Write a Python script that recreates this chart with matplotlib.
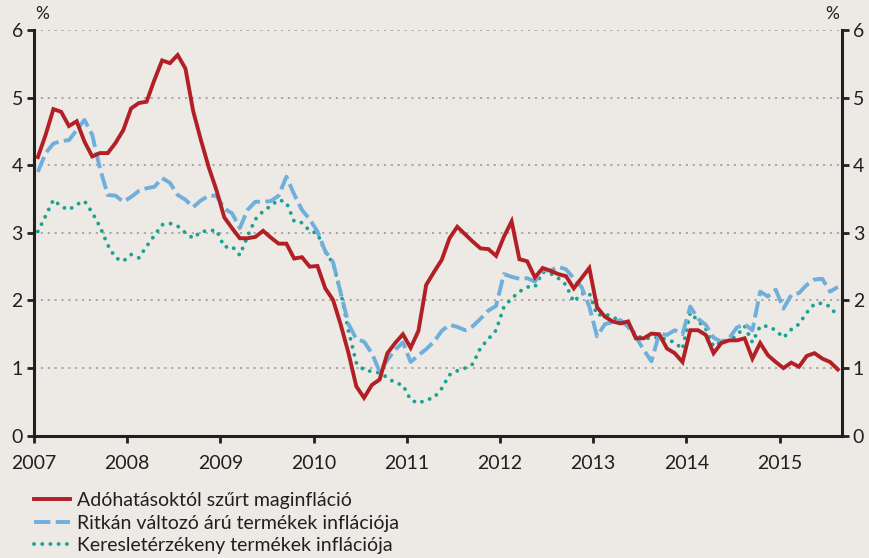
import numpy as np
import matplotlib
matplotlib.use("Agg")
import matplotlib.pyplot as plt

# Monthly data, Jan 2007 - Aug 2015 (%)
years = [2007, 2008, 2009, 2010, 2011, 2012, 2013, 2014, 2015]

core_tax_adj = [
    4.12, 4.45, 4.83, 4.79, 4.58, 4.65, 4.35, 4.13, 4.18, 4.18, 4.33, 4.52,
    4.84, 4.92, 4.94, 5.26, 5.55, 5.51, 5.63, 5.43, 4.80, 4.37, 3.97, 3.63,
    3.23, 3.07, 2.92, 2.92, 2.94, 3.03, 2.93, 2.84, 2.84, 2.62, 2.64, 2.50,
    2.51, 2.18, 2.01, 1.64, 1.22, 0.73, 0.56, 0.75, 0.83, 1.22, 1.37, 1.50,
    1.30, 1.55, 2.23, 2.42, 2.60, 2.92, 3.09, 2.98, 2.87, 2.77, 2.76, 2.66,
    2.94, 3.17, 2.61, 2.58, 2.34, 2.48, 2.44, 2.39, 2.36, 2.18, 2.33, 2.48,
    1.90, 1.76, 1.69, 1.66, 1.69, 1.44, 1.44, 1.51, 1.50, 1.29, 1.22, 1.09,
    1.56, 1.56, 1.49, 1.22, 1.37, 1.41, 1.41, 1.44, 1.14, 1.37, 1.19, 1.09,
    1.00, 1.08, 1.02, 1.18, 1.22, 1.14, 1.09, 0.98,
]

sticky_prices = [
    3.90, 4.18, 4.32, 4.36, 4.37, 4.52, 4.67, 4.45, 3.95, 3.56, 3.55, 3.46,
    3.53, 3.62, 3.66, 3.68, 3.81, 3.74, 3.56, 3.49, 3.38, 3.48, 3.55, 3.55,
    3.36, 3.29, 3.07, 3.34, 3.46, 3.46, 3.47, 3.55, 3.83, 3.57, 3.34, 3.20,
    3.02, 2.73, 2.57, 2.11, 1.65, 1.43, 1.39, 1.22, 0.95, 1.12, 1.27, 1.38,
    1.09, 1.19, 1.28, 1.39, 1.55, 1.64, 1.61, 1.56, 1.62, 1.73, 1.85, 1.92,
    2.39, 2.35, 2.32, 2.33, 2.28, 2.45, 2.44, 2.50, 2.46, 2.33, 2.20, 1.91,
    1.47, 1.65, 1.68, 1.71, 1.61, 1.46, 1.27, 1.10, 1.51, 1.49, 1.56, 1.50,
    1.91, 1.73, 1.64, 1.45, 1.39, 1.44, 1.60, 1.65, 1.56, 2.13, 2.06, 2.16,
    1.88, 2.08, 2.11, 2.23, 2.31, 2.32, 2.13, 2.20,
]

demand_sensitive = [
    3.02, 3.25, 3.49, 3.39, 3.34, 3.42, 3.47, 3.30, 3.09, 2.82, 2.63, 2.58,
    2.68, 2.63, 2.80, 2.96, 3.12, 3.14, 3.10, 3.00, 2.92, 3.02, 3.03, 3.04,
    2.79, 2.80, 2.67, 2.95, 3.20, 3.32, 3.40, 3.49, 3.45, 3.17, 3.15, 3.03,
    2.99, 2.72, 2.55, 2.12, 1.55, 1.08, 0.97, 0.95, 0.93, 0.86, 0.78, 0.75,
    0.53, 0.48, 0.53, 0.56, 0.70, 0.90, 0.96, 1.00, 1.06, 1.30, 1.43, 1.56,
    1.90, 2.03, 2.13, 2.20, 2.20, 2.42, 2.40, 2.33, 2.23, 1.98, 2.10, 2.11,
    1.78, 1.80, 1.76, 1.69, 1.66, 1.48, 1.44, 1.44, 1.46, 1.42, 1.38, 1.28,
    1.82, 1.70, 1.58, 1.32, 1.39, 1.41, 1.48, 1.62, 1.38, 1.62, 1.62, 1.56,
    1.45, 1.57, 1.65, 1.82, 1.95, 1.96, 1.91, 1.76,
]

labels = [
    "Adóhatásoktól szűrt maginfláció",
    "Ritkán változó árú termékek inflációja",
    "Keresletérzékeny termékek inflációja",
]

bg = "#ede9e5"
plt.rcParams["font.family"] = ["Lato", "DejaVu Sans"]

fig = plt.figure(figsize=(8.69, 5.58), dpi=100, facecolor=bg)
ax = fig.add_axes([0.0391, 0.2192, 0.9295, 0.7270], facecolor=bg)

x = np.arange(len(core_tax_adj)) + 0.5
lw = 2.8
ax.plot(x, core_tax_adj, color="#b22025", lw=lw, solid_joinstyle="miter",
        label=labels[0], zorder=4)
ax.plot(x, sticky_prices, color="#6fafdc", lw=lw, linestyle=(0, (4.2, 1.4)),
        label=labels[1], zorder=3)
ax.plot(x, demand_sensitive, color="#1aa394", lw=lw, linestyle=(0, (0.01, 2.1)),
        dash_capstyle="round", label=labels[2], zorder=2)

ax.set_xlim(0, 104)
ax.set_ylim(0, 6)
ax.set_xticks(np.arange(len(years)) * 12)
ax.set_xticklabels([str(y) for y in years])
ax.set_yticks(range(7))

for yv in range(1, 7):
    ax.axhline(yv, color="#a3a3a3", lw=1.3, linestyle=(0, (1.2, 2.6)), zorder=1)

ax2 = ax.twinx()
ax2.set_ylim(0, 6)
ax2.set_yticks(range(7))

for a in (ax, ax2):
    for s in a.spines.values():
        s.set_color("#231f20")
        s.set_linewidth(2.2)
    a.spines["top"].set_visible(False)
    a.tick_params(length=5, width=2, color="#231f20", labelsize=14,
                  labelcolor="#231f20", pad=3)
ax.tick_params(axis="x", pad=9)
ax2.spines["left"].set_visible(False)
ax2.spines["bottom"].set_visible(False)
ax.spines["right"].set_visible(False)

fig.text(0.049, 0.975, "%", fontsize=12.5, color="#231f20", ha="center", va="center")
fig.text(0.958, 0.975, "%", fontsize=12.5, color="#231f20", ha="center", va="center")

leg = ax.legend(loc="upper left", bbox_to_anchor=(-0.01, -0.12), frameon=False,
                fontsize=14, handlelength=1.85, handletextpad=0.4,
                labelspacing=0.28, borderaxespad=0, labelcolor="#231f20")

fig.savefig("out.png", dpi=100, facecolor=bg)
